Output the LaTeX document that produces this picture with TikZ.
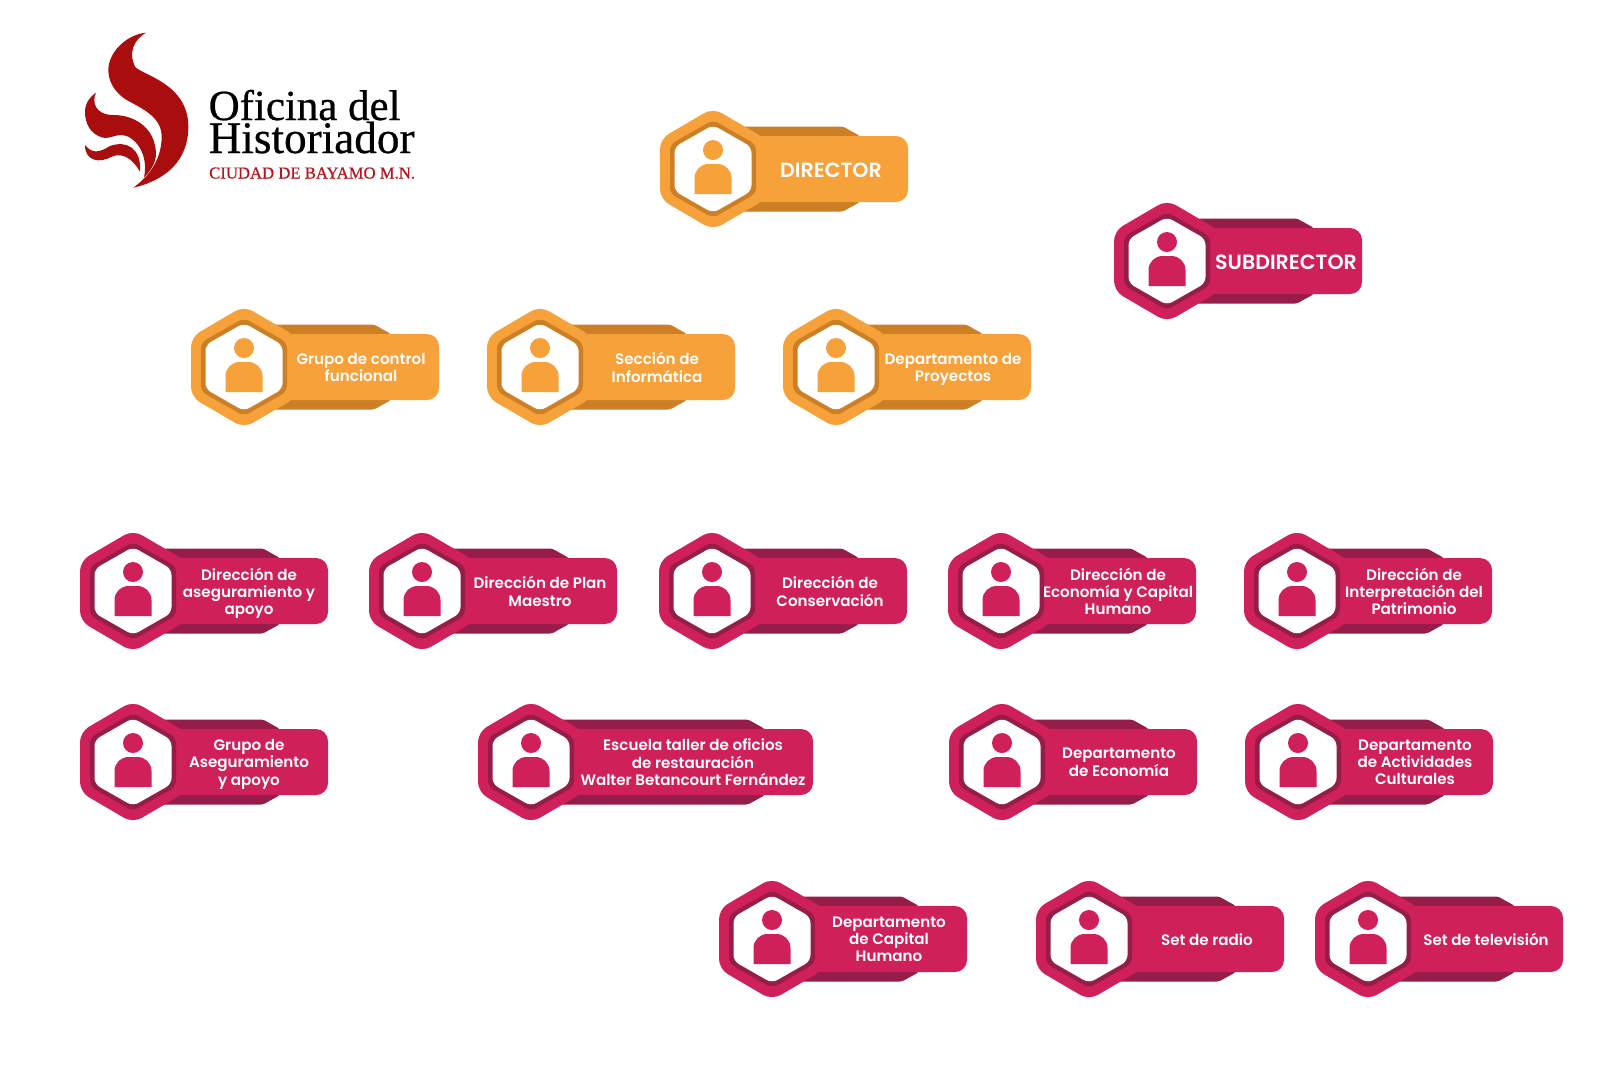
\documentclass[tikz,border=0pt]{standalone}
\usepackage{fontspec}
\setmainfont{Poppins}[BoldFont={Poppins SemiBold}]
\newfontfamily\logofont[FakeBold=.6]{Liberation Serif}
\definecolor{ambar}{HTML}{F7A13B}
\definecolor{ambarD}{HTML}{CC7F25}
\definecolor{rosa}{HTML}{CF2059}
\definecolor{rosaD}{HTML}{961C4A}
\definecolor{llama}{HTML}{A90D0D}
\definecolor{ciudad}{HTML}{B5161D}
\tikzset{lab/.style={text=white,align=center,inner sep=0pt,font=\fontsize{4.3}{4.9}\selectfont\bfseries},
logotxt/.style={anchor=base west,inner sep=0pt}}
% #1 name, #2 centre, #3 colour, #4 dark colour, #5 bar length, #6 text offset, #7 text
\newcommand{\badge}[7]{\begin{scope}[shift={(#2)}]
\fill[#4,rounded corners=.02cm] (0,-42.5)--({#5-65},-42.5)--({#5-48},-33)--({#5-48},33)--({#5-65},42.5)--(0,42.5)--cycle;
\fill[#3,rounded corners=.12cm] (0,-33) rectangle (#5,33);
\fill[#3,rounded corners=.1cm] (0,-61)--(53,-30)--(53,30)--(0,61)--(-53,30)--(-53,-30)--cycle;
\fill[#4,rounded corners=.06cm] (0,-49)--(43,-24.5)--(43,24.5)--(0,49)--(-43,24.5)--(-43,-24.5)--cycle;
\fill[white,rounded corners=.06cm] (0,-44)--(38.5,-22)--(38.5,22)--(0,44)--(-38.5,22)--(-38.5,-22)--cycle;
\fill[#3] (0,-19) circle(10);
\fill[#3] (-18.5,25)--(-18.5,9) .. controls (-18.5,1) and (-12,-5) .. (-4.5,-5)--(4.5,-5) .. controls (12,-5) and (18.5,1) .. (18.5,9)--(18.5,25)--cycle;
\node[lab] (#1) at (#6,2.2){\vphantom{Ap}#7\vphantom{Ap}};
\end{scope}}
\newcommand{\orangebadge}[4]{\badge{#1}{#2}{ambar}{ambarD}{195}{#3}{#4}}
\newcommand{\redbadge}[4]{\badge{#1}{#2}{rosa}{rosaD}{195}{#3}{#4}}
\newcommand{\capstxt}[1]{\raisebox{-.4pt}{\fontsize{5.85}{6}\selectfont #1}}

\begin{document}
\begin{tikzpicture}[x=.01cm,y=-.01cm]
\useasboundingbox (0,0) rectangle (1600,1066);
\fill[white] (0,0) rectangle (1600,1066);
% logo
\begin{scope}[shift={(70,20)},scale=1/3]
\fill[llama] (228,38) .. controls (190,60) and (175,100) .. (195,140) .. controls (215,165) and (355,190) .. (355,320) .. controls (355,420) and (290,480) .. (190,503) .. controls (235,470) and (275,420) .. (275,350) .. controls (275,290) and (215,265) .. (170,240) .. controls (130,215) and (115,180) .. (115,150) .. controls (115,100) and (165,45) .. (228,38)--cycle;
\fill[llama] (78,218) .. controls (65,245) and (75,285) .. (130,285) .. controls (190,285) and (255,320) .. (258,400) .. controls (258,430) and (240,455) .. (222,472) .. controls (232,430) and (220,375) .. (175,350) .. controls (140,335) and (125,360) .. (95,352) .. controls (60,340) and (45,310) .. (45,275) .. controls (45,250) and (60,230) .. (78,218)--cycle;
\fill[llama] (45,375) .. controls (65,400) and (85,400) .. (120,378) .. controls (170,360) and (215,385) .. (210,455) .. controls (190,420) and (160,395) .. (125,410) .. controls (90,430) and (45,425) .. (45,375)--cycle;
\end{scope}
\node[logotxt,font=\logofont\fontsize{12.2}{12.2}\selectfont] (oficina) at (208,120){Oficina del};
\node[logotxt,font=\logofont\fontsize{12.85}{12.85}\selectfont] (historiador) at (208,153){Historiador};
\node[logotxt,text=ciudad,font=\logofont\fontsize{4.75}{4.75}\selectfont] (ciudad) at (208.5,178.5){CIUDAD DE BAYAMO M.N.};
% cabecera
\badge{director}{713,169}{ambar}{ambarD}{195}{118}{\capstxt{DIRECTOR}}
\redbadge{subdirector}{1167,261}{119}{\capstxt{SUBDIRECTOR}}
% grupo naranja
\orangebadge{grupoControl}{244,367}{117}{Grupo de control\\funcional}
\orangebadge{seccion}{540,367}{117}{Sección de\\Informática}
\orangebadge{proyectos}{836,367}{117}{Departamento de\\Proyectos}
% direcciones
\redbadge{aseguramiento}{133,591}{116}{Dirección de\\aseguramiento y\\apoyo}
\redbadge{planMaestro}{422,591}{118}{Dirección de Plan\\Maestro}
\redbadge{conservacion}{712,591}{118}{Dirección de\\Conservación}
\redbadge{economiaCH}{1001,591}{117}{Dirección de\\Economía y Capital\\Humano}
\redbadge{interpretacion}{1297,591}{117}{Dirección de\\Interpretación del\\Patrimonio}
% departamentos
\redbadge{grupoAseg}{133,762}{116}{Grupo de\\Aseguramiento\\y apoyo}
\badge{escuela}{531,762}{rosa}{rosaD}{282}{162}{Escuela taller de oficios\\de restauración\\Walter Betancourt Fernández}
\redbadge{depEconomia}{1002,762}{117}{Departamento\\de Economía}
\redbadge{depActividades}{1298,762}{117}{Departamento\\de Actividades\\Culturales}
\redbadge{capital}{772,939}{117}{Departamento\\de Capital\\Humano}
\redbadge{radio}{1089,939}{118}{Set de radio}
\redbadge{television}{1368,939}{118}{Set de televisión}
\end{tikzpicture}
\end{document}
